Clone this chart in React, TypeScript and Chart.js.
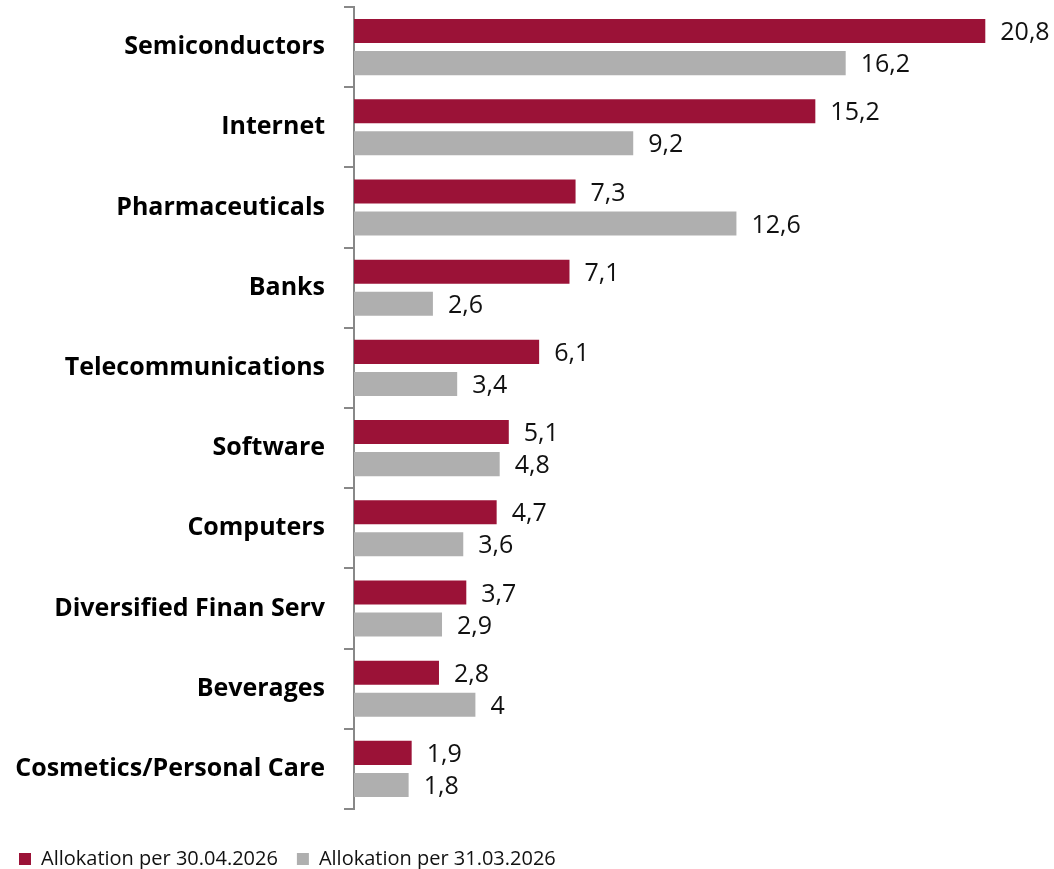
import React, { useEffect, useRef } from "react";
import { Chart, registerables } from "chart.js";

Chart.register(...registerables);

const categories = [
  "Semiconductors",
  "Internet",
  "Pharmaceuticals",
  "Banks",
  "Telecommunications",
  "Software",
  "Computers",
  "Diversified Finan Serv",
  "Beverages",
  "Cosmetics/Personal Care",
];
const seriesApril = [20.8, 15.2, 7.3, 7.1, 6.1, 5.1, 4.7, 3.7, 2.8, 1.9];
const seriesMarch = [16.2, 9.2, 12.6, 2.6, 3.4, 4.8, 3.6, 2.9, 4, 1.8];
const seriesNames = ["Allokation per 30.04.2026", "Allokation per 31.03.2026"];

const FONT = "'Open Sans', 'Noto Sans', sans-serif";

const valueLabels = {
  id: "valueLabels",
  afterDatasetsDraw(chart: any) {
    const ctx = chart.ctx;
    ctx.save();
    ctx.font = `25px ${FONT}`;
    ctx.fillStyle = "#111111";
    ctx.textAlign = "left";
    ctx.textBaseline = "middle";
    chart.data.datasets.forEach((ds: any, di: number) => {
      const meta = chart.getDatasetMeta(di);
      meta.data.forEach((bar: any, i: number) => {
        const v = ds.data[i];
        const txt = String(v).replace(".", ",");
        ctx.fillText(txt, bar.x + 15, bar.y + 2);
      });
    });
    ctx.restore();
  },
};

export default function App() {
  const ref = useRef<HTMLCanvasElement>(null);
  useEffect(() => {
    if (!ref.current) return;
    const chart = new Chart(ref.current, {
      type: "bar",
      data: {
        labels: categories,
        datasets: [
          {
            label: seriesNames[0],
            data: seriesApril,
            backgroundColor: "#9B1237",
            categoryPercentage: 0.8,
            barPercentage: 0.75,
          },
          {
            label: seriesNames[1],
            data: seriesMarch,
            backgroundColor: "#AFAFAF",
            categoryPercentage: 0.8,
            barPercentage: 0.75,
          },
        ],
      },
      options: {
        indexAxis: "y",
        animation: false,
        responsive: true,
        maintainAspectRatio: false,
        layout: { padding: { top: 7, left: 0, right: 8, bottom: 0 } },
        scales: {
          x: {
            display: true,
            min: 0,
            max: 22.8,
            ticks: { display: false },
            grid: { display: false },
            border: { display: false },
            afterFit: (scale: any) => {
              scale.height = 21;
            },
          },
          y: {
            afterFit: (scale: any) => {
              scale.width = 354;
              scale.paddingTop = 0;
              scale.paddingBottom = 0;
            },
            border: { display: true, color: "#888888", width: 2 },
            grid: {
              display: true,
              drawOnChartArea: false,
              drawTicks: true,
              tickLength: 10,
              color: "#888888",
              lineWidth: 2,
            },
            ticks: {
              padding: 19,
              color: "#000000",
              font: { family: FONT, size: 25, weight: "bold" },
            },
          },
        },
        plugins: {
          legend: {
            position: "bottom",
            align: "start",
            labels: {
              boxWidth: 12,
              boxHeight: 12,
              padding: 19,
              color: "#111111",
              font: { family: FONT, size: 20 },
            },
          },
          tooltip: { enabled: false },
        },
      },
      plugins: [valueLabels],
    });
    return () => chart.destroy();
  }, []);
  return (
    <div style={{ position: "absolute", left: 0, top: 0, width: 1054, height: 879, background: "#fff" }}>
      <canvas ref={ref} />
    </div>
  );
}
